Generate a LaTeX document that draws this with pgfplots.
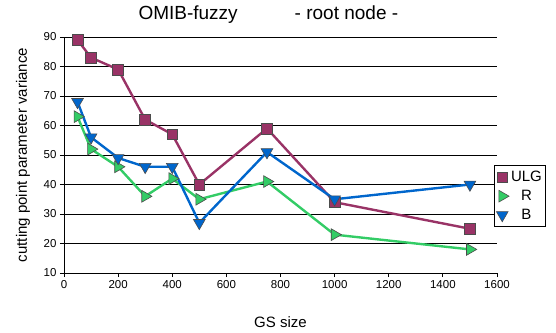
\documentclass[border=0pt]{standalone}
\usepackage{fontspec}
\setmainfont{Liberation Sans}
\usepackage{pgfplots}
\pgfplotsset{compat=1.18}
\definecolor{ulg}{HTML}{993366}
\definecolor{rr}{HTML}{33CC66}
\definecolor{bb}{HTML}{0066CC}
\begin{document}
\begin{tikzpicture}
\begin{axis}[
  name=ax,
  scale only axis,
  width=433bp, height=236bp,
  xmin=0, xmax=1600, ymin=10, ymax=90,
  xtick={0,200,...,1600}, ytick={10,20,...,90},
  axis x line*=bottom, axis y line*=left,
  axis line style={line width=1pt,-},
  tick style={black, line width=0.8pt},
  tick align=outside, major tick length=4bp,
  ymajorgrids, grid style={black, line width=0.7pt},
  /pgf/number format/assume math mode=true,
  /pgf/number format/set thousands separator={},
  ticklabel style={font=\fontsize{11.5bp}{13bp}\selectfont},
  xlabel={GS size}, ylabel={cutting point parameter variance},
  label style={font=\fontsize{15bp}{17bp}\selectfont},
  xlabel style={at={(rel axis cs:0.5,0)}, anchor=base, yshift=-54bp},
  ylabel style={at={(rel axis cs:-0.0855,0.5)}, anchor=base},
  legend style={at={(rel axis cs:0.993,0.458)}, anchor=north west, draw=black, line width=0.8pt,
    font=\fontsize{15bp}{17bp}\selectfont, row sep=3bp, inner xsep=2bp, inner ysep=4bp},
  legend image code/.code={\draw[#1, draw=black] plot coordinates {(0.22cm,0cm)};},
  clip=false,
]
\addplot[ulg, line width=2.4pt, mark=square*, mark size=5.4bp, mark options={fill=ulg, draw=black!70, line width=0.6pt}]
  coordinates {(50,89)(100,83)(200,79)(300,62)(400,57)(500,40)(750,59)(1000,34)(1500,25)};
\addplot[rr, line width=2.4pt, mark=triangle*, mark size=6.8bp, mark options={rotate=-90, fill=rr, draw=black!70, line width=0.6pt}]
  coordinates {(50,63)(100,52)(200,46)(300,36)(400,42)(500,35)(750,41)(1000,23)(1500,18)};
\addplot[bb, line width=2.4pt, mark=triangle*, mark size=6.8bp, mark options={rotate=180, fill=bb, draw=black!70, line width=0.6pt}]
  coordinates {(50,68)(100,56)(200,49)(300,46)(400,46)(500,27)(750,51)(1000,35)(1500,40)};
\legend{ULG,R,B}
\node[font=\fontsize{19bp}{21bp}\selectfont, anchor=base] at (rel axis cs:0.472,1.075) {OMIB-fuzzy\hspace{57bp}- root node -};
\end{axis}
\pgfresetboundingbox
\path (ax.south west) ++(-64bp,-60bp) rectangle ++(556bp,333bp);
\end{tikzpicture}
\end{document}
